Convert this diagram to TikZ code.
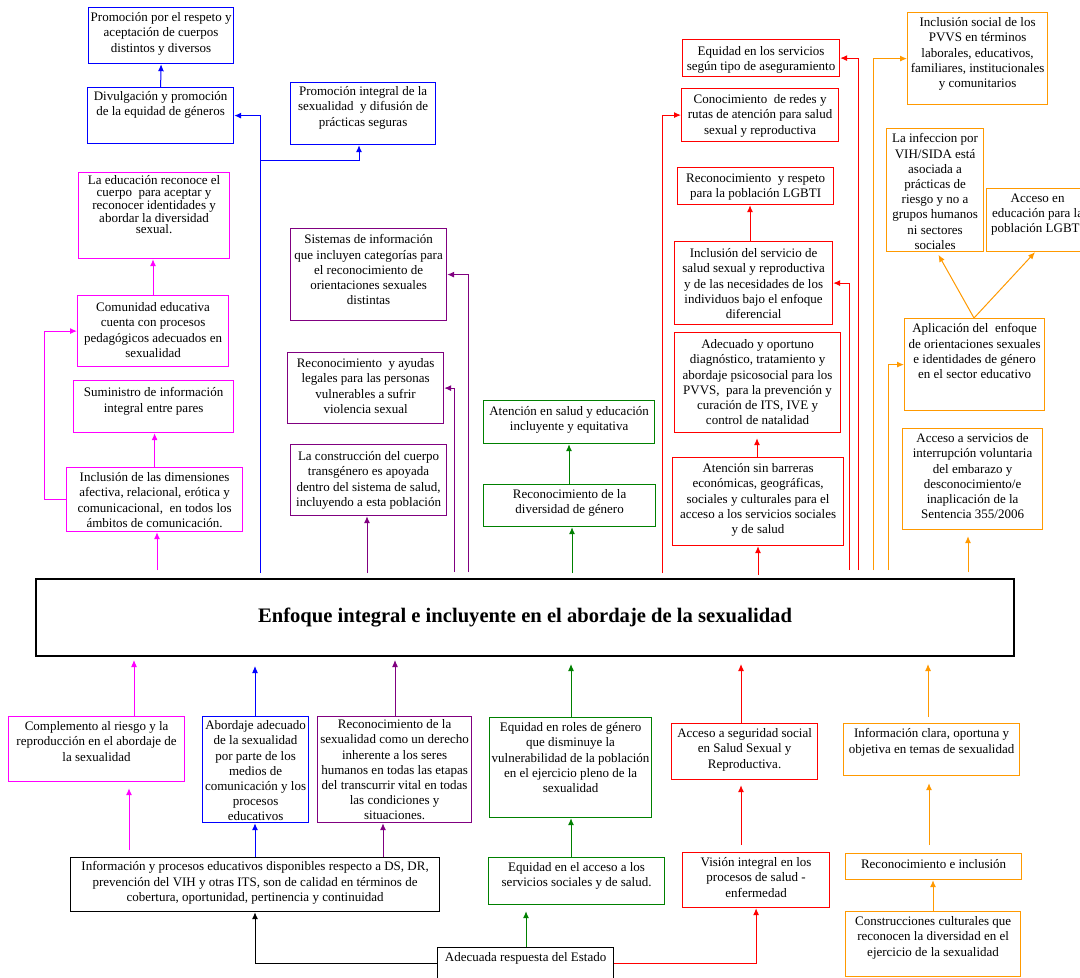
\documentclass[tikz,border=0pt]{standalone}
\usepackage{fontspec}
\setmainfont{Liberation Serif}
\usetikzlibrary{arrows.meta}
\definecolor{cb}{HTML}{0000FF}
\definecolor{cm}{HTML}{FF00FF}
\definecolor{cp}{HTML}{800080}
\definecolor{cg}{HTML}{008000}
\definecolor{cr}{HTML}{FF0000}
\definecolor{co}{HTML}{FF9900}
\definecolor{ck}{HTML}{000000}
\newcommand\fs{\fontsize{13}{15.2}\selectfont}
\newcommand\fsm{\fontsize{13}{11.8}\selectfont}
\tikzset{
  bx/.style={draw=#1, line width=1.2pt, inner sep=0pt, anchor=north west, rectangle},
  tx/.style={font=\fs, align=center, inner sep=0pt, anchor=north, text=black},
  ar/.style={draw=#1, line width=1pt, -{Latex[length=7pt,width=6pt]}},
}
% #1 = downward text offset (pt), #2 name, #3 colour, #4..#7 corners, #8 text
\newcommand\bx[8][5.5]{%
  \pgfmathsetmacro\bxw{#6-#4}\pgfmathsetmacro\bxh{#7-#5}%
  \node[bx=#3, minimum width=\bxw pt, minimum height=\bxh pt,
        label={[tx,yshift=-#1pt]north:{#8}}] (#2) at (#4,#5) {};}
\begin{document}
\begin{tikzpicture}[x=1pt,y=-1pt]
\useasboundingbox (0,0) rectangle (1080,978);
% main
\node[draw=black, line width=2pt, inner sep=0pt, anchor=north west, minimum width=978pt, minimum height=77pt,
      font=\fontsize{20.6}{24}\selectfont\bfseries] (main) at (35,578) {Enfoque integral e incluyente en el abordaje de la sexualidad};
% blue
\bx{B1}{cb}{88}{7}{233}{63}{Promoción por el respeto y\\aceptación de cuerpos\\distintos y diversos}
\bx[4.5]{B2}{cb}{87}{87}{233}{143}{Divulgación y promoción\\de la equidad de géneros}
\bx[4.5]{B3}{cb}{290}{82}{435}{144}{Promoción integral de la\\sexualidad \ y difusión de\\prácticas seguras}
% magenta
\node[bx=cm, minimum width=151pt, minimum height=86pt,
      label={[tx,font=\fsm,yshift=-3.5pt]north:{La educación reconoce el\\cuerpo \ para aceptar y\\reconocer identidades y\\abordar la diversidad\\sexual.}}] (M1) at (78,172) {};
\bx[7.5]{M2}{cm}{77}{295}{228}{366}{Comunidad educativa\\cuenta con procesos\\pedagógicos adecuados en\\sexualidad}
\bx[7.5]{M3}{cm}{73}{380}{233}{432}{Suministro de información\\integral entre pares}
\bx{M4}{cm}{66}{467}{242}{531}{Inclusión de las dimensiones\\afectiva, relacional, erótica y\\comunicacional, \ en todos los\\ámbitos de comunicación.}
% purple
\bx[6.5]{P1}{cp}{290}{228}{446}{320}{Sistemas de información\\que incluyen categorías para\\el reconocimiento de\\orientaciones sexuales\\distintas}
\bx[6.5]{P2}{cp}{287}{352}{443}{423}{Reconocimiento \ y ayudas\\legales para las personas\\vulnerables a sufrir\\violencia sexual}
\bx[7.5]{P3}{cp}{290}{444}{446}{515}{La construcción del cuerpo\\transgénero es apoyada\\dentro del sistema de salud,\\incluyendo a esta población}
% green
\bx[6.5]{G1}{cg}{483}{400}{654}{443}{Atención en salud y educación\\incluyente y equitativa}
\bx{G2}{cg}{483}{484}{655}{526}{Reconocimiento de la\\diversidad de género}
% red
\bx[7.5]{R1}{cr}{682}{39}{839}{76}{Equidad en los servicios\\según tipo de aseguramiento}
\bx[6.5]{R2}{cr}{681}{88}{838}{141}{Conocimiento \ de redes y\\rutas de atención para salud\\sexual y reproductiva}
\bx[6.5]{R3}{cr}{677}{167}{833}{204}{Reconocimiento \ y respeto\\para la población LGBTI}
\bx[7.5]{R4}{cr}{674}{241}{832}{324}{Inclusión del servicio de\\salud sexual y reproductiva\\y de las necesidades de los\\individuos bajo el enfoque\\diferencial}
\bx[7.5]{R5}{cr}{674}{332}{840}{432}{Adecuado y oportuno\\diagnóstico, tratamiento y\\abordaje psicosocial para los\\PVVS, \ para la prevención y\\curación de ITS, IVE y\\control de natalidad}
\bx[6.5]{R6}{cr}{672}{457}{843}{545}{Atención sin barreras\\económicas, geográficas,\\sociales y culturales para el\\acceso a los servicios sociales\\y de salud}
% orange
\bx{O1}{co}{907}{12}{1047}{104}{Inclusión social de los\\PVVS en términos\\laborales, educativos,\\familiares, institucionales\\y comunitarios}
\bx{O2}{co}{886}{128}{983}{251}{La infeccion por\\VIH/SIDA está\\asociada a\\prácticas de\\riesgo y no a\\grupos humanos\\ni sectores\\sociales}
\bx{O3}{co}{986}{188}{1088}{251}{Acceso en\\educación para la\\población LGBTI}
\bx{O4}{co}{904}{318}{1044}{410}{Aplicación del \ enfoque\\de orientaciones sexuales\\e identidades de género\\en el sector educativo}
\bx{O5}{co}{902}{428}{1042}{529}{Acceso a servicios de\\interrupción voluntaria\\del embarazo y\\desconocimiento/e\\inaplicación de la\\Sentencia 355/2006}
% bottom
\bx{BM1}{cm}{8}{716}{184}{781}{Complemento al riesgo y la\\reproducción en el abordaje de\\la sexualidad}
\bx[4.5]{BB}{cb}{202}{716}{308}{822}{Abordaje adecuado\\de la sexualidad\\por parte de los\\medios de\\comunicación y los\\procesos\\educativos}
\bx[3.5]{BP}{cp}{317}{716}{471}{822}{Reconocimiento de la\\sexualidad como un derecho\\inherente a los seres\\humanos en todas las etapas\\del transcurrir vital en todas\\las condiciones y\\situaciones.}
\bx[4.5]{Info}{ck}{70}{857}{439}{911}{Información y procesos educativos disponibles respecto a DS, DR,\\prevención del VIH y otras ITS, son de calidad en términos de\\cobertura, oportunidad, pertinencia y continuidad}
\bx{Est}{ck}{437}{947}{613}{979}{Adecuada respuesta del Estado}
\bx{GB1}{cg}{489}{717}{651}{817}{Equidad en roles de género\\que disminuye la\\vulnerabilidad de la población\\en el ejercicio pleno de la\\sexualidad}
\bx{GB2}{cg}{488}{857}{664}{904}{Equidad en el acceso a los\\servicios sociales y de salud.}
\bx{RB1}{cr}{671}{723}{817}{779}{Acceso a seguridad social\\en Salud Sexual y\\Reproductiva.}
\bx{RB2}{cr}{682}{852}{829}{907}{Visión integral en los\\procesos de salud -\\enfermedad}
\bx{OB1}{co}{843}{723}{1019}{775}{Información clara, oportuna y\\objetiva en temas de sexualidad}
\bx[6.5]{OB2}{co}{845}{853}{1021}{879}{Reconocimiento e inclusión}
\bx{OB3}{co}{845}{911}{1020}{976}{Construcciones culturales que\\reconocen la diversidad en el\\ejercicio de la sexualidad}
% ---- connectors: blue
\draw[ar=cb] (B2.north) -- (B1.south);
\draw[ar=cb, shorten <=5pt] (260,0 |- main.north) |- (B2.east);
\coordinate (bj) at (260,160);
\draw[ar=cb] (bj) -| (359,0 |- B3.south);
% magenta
\draw[ar=cm] (153,0 |- M2.north) -- (153,0 |- M1.south);
\draw[ar=cm] (M4.north) -- (M4.north |- M3.south);
\draw[ar=cm] (M4.west) -- ++(-22,0) |- (M2.west);
\draw[ar=cm, shorten <=8pt] (157,0 |- main.north) -- (157,0 |- M4.south);
% purple
\draw[ar=cp, shorten <=5pt] (367,0 |- main.north) -- (367,0 |- P3.south);
\draw[ar=cp, shorten <=6pt] (454,0 |- main.north) |- (P2.east);
\draw[ar=cp, shorten <=6pt] (468,0 |- main.north) |- (P1.east);
% green
\draw[ar=cg, shorten <=5pt] (572,0 |- main.north) -- (572,0 |- G2.south);
\draw[ar=cg] (569,0 |- G2.north) -- (569,0 |- G1.south);
% red
\draw[ar=cr, shorten <=5pt] (662,0 |- main.north) |- (R2.west);
\draw[ar=cr, shorten <=3pt] (758,0 |- main.north) -- (758,0 |- R6.south);
\draw[ar=cr, shorten >=5pt] (757,0 |- R6.north) -- (757,0 |- R5.south);
\draw[ar=cr] (750,0 |- R4.north) -- (750,0 |- R3.south);
\draw[ar=cr, shorten <=8pt] (849,0 |- main.north) |- (R4.east);
\draw[ar=cr, shorten <=8pt] (858,0 |- main.north) |- (R1.east);
% orange
\draw[ar=co, shorten <=8pt] (873,0 |- main.north) |- (O1.west);
\draw[ar=co, shorten <=8pt] (888,0 |- main.north) |- (O4.west);
\draw[ar=co, shorten >=3pt] (974,0 |- O4.north) -- (937,0 |- O2.south);
\draw[ar=co] (974,0 |- O4.north) -- (1035,0 |- O3.south);
\draw[ar=co, shorten <=6pt, shorten >=6pt] (968,0 |- main.north) -- (968,0 |- O5.south);
% bottom
\draw[ar=cm, shorten >=3pt] (134,0 |- BM1.north) -- (134,0 |- main.south);
\draw[ar=cb, shorten >=9pt] (255,0 |- BB.north) -- (255,0 |- main.south);
\draw[ar=cp, shorten >=3pt] (395,0 |- BP.north) -- (395,0 |- main.south);
\draw[ar=cm, shorten <=7pt, shorten >=6pt] (129,0 |- Info.north) -- (129,0 |- BM1.south);
\draw[ar=cb] (255,0 |- Info.north) -- (255,0 |- BB.south);
\draw[ar=cp] (383,0 |- Info.north) -- (383,0 |- BP.south);
\draw[ar=ck] (Est.west) -| (255,0 |- Info.south);
\draw[ar=cg, shorten >=6pt] (526,0 |- Est.north) -- (526,0 |- GB2.south);
\draw[ar=cg] (571,0 |- GB2.north) -- (571,0 |- GB1.south);
\draw[ar=cg, shorten >=7pt] (571,0 |- GB1.north) -- (571,0 |- main.south);
\draw[ar=cr] (Est.east) -| (RB2.south);
\draw[ar=cr, shorten <=7pt, shorten >=5pt] (741,0 |- RB2.north) -- (741,0 |- RB1.south);
\draw[ar=cr, shorten >=7pt] (741,0 |- RB1.north) -- (741,0 |- main.south);
\draw[ar=co, shorten <=6pt, shorten >=7pt] (928,0 |- OB1.north) -- (928,0 |- main.south);
\draw[ar=co, shorten <=8pt, shorten >=7pt] (929,0 |- OB2.north) -- (929,0 |- OB1.south);
\draw[ar=co] (933,0 |- OB3.north) -- (933,0 |- OB2.south);
\end{tikzpicture}
\end{document}
